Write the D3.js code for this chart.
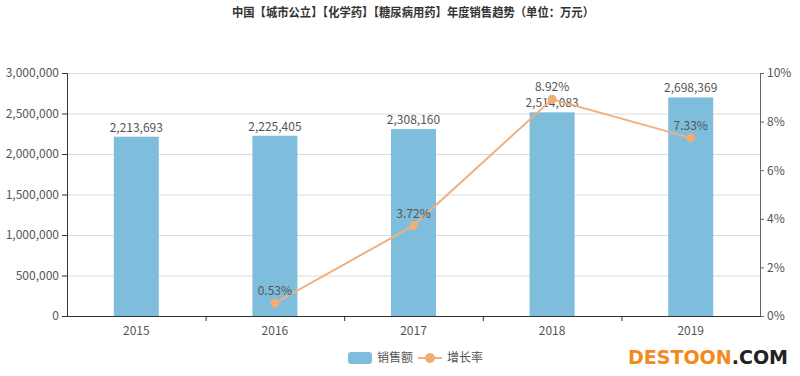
<!DOCTYPE html>
<html>
<head>
<meta charset="utf-8">
<script src="https://cdn.jsdelivr.net/npm/d3@7"></script>
<style>
body { margin: 0; background: #fff; }
text { font-family: "Noto Sans CJK SC", "Noto Sans", sans-serif; }
</style>
</head>
<body>
<script>
var years = ["2015", "2016", "2017", "2018", "2019"];
var sales = [2213693, 2225405, 2308160, 2514083, 2698369];
var growth = [null, 0.53, 3.72, 8.92, 7.33];
var salesTicks = [0, 500000, 1000000, 1500000, 2000000, 2500000, 3000000];
var growthTicks = [0, 2, 4, 6, 8, 10];

var w = 800, h = 376;
var m = { top: 73, right: 40, bottom: 60, left: 67 };
var iw = w - m.left - m.right, ih = h - m.top - m.bottom;

var svg = d3.select("body").append("svg")
	.attr("width", w)
	.attr("height", h);

svg.append("text")
	.attr("x", 413).attr("y", 17)
	.attr("text-anchor", "middle")
	.attr("font-size", "12px")
	.attr("font-weight", "bold")
	.attr("fill", "#333")
	.attr("textLength", 362)
	.attr("lengthAdjust", "spacingAndGlyphs")
	.text("中国【城市公立】【化学药】【糖尿病用药】年度销售趋势（单位：万元）");

var g = svg.append("g").attr("transform", "translate(" + m.left + "," + m.top + ")");

var x = d3.scaleBand().domain(years).range([0, iw]);
var y = d3.scaleLinear().domain([0, 3000000]).range([ih, 0]);
var y2 = d3.scaleLinear().domain([0, 10]).range([ih, 0]);

// grid
g.selectAll(".grid")
	.data(salesTicks.slice(1))
	.enter().append("line")
	.attr("x1", 0).attr("x2", iw)
	.attr("y1", function(d) { return y(d) + 0.5; })
	.attr("y2", function(d) { return y(d) + 0.5; })
	.attr("stroke", "#dcdcdc");

// bars
var bw = 45;
g.selectAll("rect.bar")
	.data(sales)
	.enter().append("rect")
	.attr("class", "bar")
	.attr("x", function(d, i) { return x(years[i]) + x.bandwidth() / 2 - bw / 2; })
	.attr("y", function(d) { return y(d); })
	.attr("width", bw)
	.attr("height", function(d) { return ih - y(d); })
	.attr("fill", "#7ebddb");

g.selectAll("text.bl")
	.data(sales)
	.enter().append("text")
	.attr("class", "bl")
	.attr("x", function(d, i) { return x(years[i]) + x.bandwidth() / 2; })
	.attr("y", function(d) { return y(d) - 5; })
	.attr("text-anchor", "middle")
	.attr("font-size", "12px")
	.attr("fill", "#555")
	.text(function(d) { return d3.format(",")(d); });

// axes
var left = g.append("g").call(d3.axisLeft(y).tickValues(salesTicks).tickFormat(d3.format(",")).tickSize(5).tickPadding(3));
var right = g.append("g").attr("transform", "translate(" + iw + ",0)")
	.call(d3.axisRight(y2).tickValues(growthTicks).tickFormat(function(d) { return d + "%"; }).tickSize(4).tickPadding(3));
var bottom = g.append("g").attr("transform", "translate(0," + ih + ")")
	.call(d3.axisBottom(x).tickSize(0).tickPadding(10));

bottom.selectAll(".sep")
	.data(years.slice(1))
	.enter().append("line")
	.attr("x1", function(d) { return x(d) + 0.5; })
	.attr("x2", function(d) { return x(d) + 0.5; })
	.attr("y1", 0).attr("y2", 5)
	.attr("stroke", "#333");

[left, right, bottom].forEach(function(a) {
	a.selectAll("text").attr("font-size", "12px").attr("fill", "#555")
		.attr("font-family", "\"Noto Sans CJK SC\", sans-serif");
	a.selectAll(".domain").attr("stroke", "#333");
	a.selectAll(".tick line").attr("stroke", "#333");
});
right.selectAll(".domain").attr("stroke", "#666");
right.selectAll(".tick line").attr("stroke", "#666");

// growth line
var pts = growth.map(function(d, i) { return { year: years[i], v: d }; })
	.filter(function(d) { return d.v !== null; });

var line = d3.line()
	.x(function(d) { return x(d.year) + x.bandwidth() / 2; })
	.y(function(d) { return y2(d.v); });

g.append("path")
	.datum(pts)
	.attr("d", line)
	.attr("fill", "none")
	.attr("stroke", "#f0b17e")
	.attr("stroke-width", 2);

g.selectAll("circle.pt")
	.data(pts)
	.enter().append("circle")
	.attr("class", "pt")
	.attr("cx", function(d) { return x(d.year) + x.bandwidth() / 2; })
	.attr("cy", function(d) { return y2(d.v); })
	.attr("r", 4.5)
	.attr("fill", "#f0ad75");

g.selectAll("text.pl")
	.data(pts)
	.enter().append("text")
	.attr("class", "pl")
	.attr("x", function(d) { return x(d.year) + x.bandwidth() / 2; })
	.attr("y", function(d) { return y2(d.v) - 8; })
	.attr("text-anchor", "middle")
	.attr("font-size", "12px")
	.attr("fill", "#555")
	.text(function(d) { return d.v.toFixed(2) + "%"; });

// legend
var lg = svg.append("g").attr("transform", "translate(348,358)");
lg.append("rect").attr("x", 0).attr("y", -6).attr("width", 24).attr("height", 12).attr("rx", 3).attr("fill", "#7ebddb");
lg.append("text").attr("x", 29).attr("y", 4).attr("font-size", "12px").attr("fill", "#555").text("销售额");
lg.append("line").attr("x1", 70).attr("x2", 94).attr("y1", 0).attr("y2", 0).attr("stroke", "#f0b17e").attr("stroke-width", 2);
lg.append("circle").attr("cx", 82).attr("cy", 0).attr("r", 5).attr("fill", "#f0ad75");
lg.append("text").attr("x", 99).attr("y", 4).attr("font-size", "12px").attr("fill", "#555").text("增长率");

// watermark
var wm = svg.append("text")
	.attr("x", 628).attr("y", 364)
	.attr("font-size", "20px")
	.attr("font-weight", "bold")
	.attr("textLength", 160)
	.attr("lengthAdjust", "spacingAndGlyphs")
	.style("font-family", "\"DejaVu Sans\", sans-serif");
wm.append("tspan").attr("fill", "#f08a1c").text("DESTOON");
wm.append("tspan").attr("fill", "#222").text(".COM");
</script>
</body>
</html>
